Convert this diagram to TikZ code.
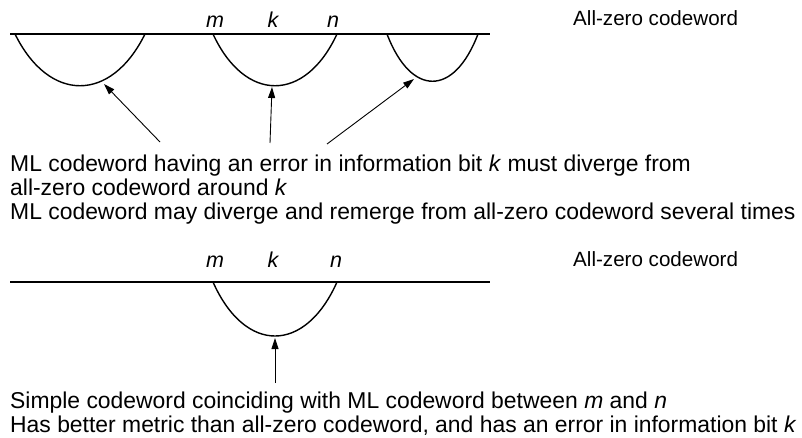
\documentclass[tikz,border=0pt]{standalone}
\usepackage{fontspec}
\setmainfont{Liberation Sans}
\usetikzlibrary{arrows.meta}
\tikzset{
  txt/.style={anchor=base west, inner sep=0pt, font=\fontsize{22.9}{24}\selectfont},
  lbl/.style={anchor=base, inner sep=0pt, font=\fontsize{21.5}{22}\selectfont\itshape},
  zlbl/.style={anchor=base west, inner sep=0pt, font=\fontsize{20.6}{22}\selectfont},
  axis/.style={line width=1.8pt},
  path/.style={line width=1.4pt},
  ptr/.style={line width=0.9pt, -{Triangle[length=11pt,width=7pt]}}
}
\begin{document}
\begin{tikzpicture}[x=1pt,y=-1pt]
\useasboundingbox (0,0) rectangle (802,438);
% ---- top diagram ----
\coordinate (t0) at (10,34);
\coordinate (t1) at (490,34);
\draw[axis] (t0) -- (t1);
\node[lbl] (m1) at (215,28) {m};
\node[lbl] (k1) at (273,28) {k};
\node[lbl] (n1) at (333,28) {n};
\node[zlbl] (z1) at (573,26) {All-zero codeword};
\coordinate (a1s) at (15,34);  \coordinate (a1e) at (145,34);
\coordinate (a2s) at (213,34); \coordinate (a2e) at (337,34);
\coordinate (a3s) at (387,34); \coordinate (a3e) at (478,34);
\draw[path] (a1s) .. controls (49,103) and (111,103) .. (a1e);
\draw[path] (a2s) .. controls (245,103) and (305,103) .. (a2e);
\draw[path] (a3s) .. controls (411,97) and (454,97) .. (a3e);
\coordinate (h1) at (104,84);
\coordinate (h2) at (272,87);
\coordinate (h3) at (414,79);
\coordinate (s1) at (160,142);
\coordinate (s2) at (270,143);
\coordinate (s3) at (327,144);
\draw[ptr] (s1) -- (h1);
\draw[ptr] (s2) -- (h2);
\draw[ptr] (s3) -- (h3);
\node[txt] (l1) at (10,172) {ML codeword having an error in information bit \textit{k} must diverge from};
\node[txt] (l2) at (10,196) {all-zero codeword around \textit{k}};
\node[txt] (l3) at (10,220) {ML codeword may diverge and remerge from all-zero codeword several times};
% ---- bottom diagram ----
\coordinate (b0) at (10,282);
\coordinate (b1) at (490,282);
\draw[axis] (b0) -- (b1);
\node[lbl] (m2) at (215,267) {m};
\node[lbl] (k2) at (273,267) {k};
\node[lbl] (n2) at (336,267) {n};
\node[zlbl] (z2) at (573,266) {All-zero codeword};
\coordinate (bs) at (213,282); \coordinate (be) at (337,282);
\draw[path] (bs) .. controls (245,354) and (305,354) .. (be);
\coordinate (bh) at (275,338);
\coordinate (bt) at (275,383);
\draw[ptr] (bt) -- (bh);
\node[txt] (l4) at (10,408) {Simple codeword coinciding with ML codeword between \textit{m} and \textit{n}};
\node[txt] (l5) at (10,432) {Has better metric than all-zero codeword, and has an error in information bit \textit{k}};
\end{tikzpicture}
\end{document}
